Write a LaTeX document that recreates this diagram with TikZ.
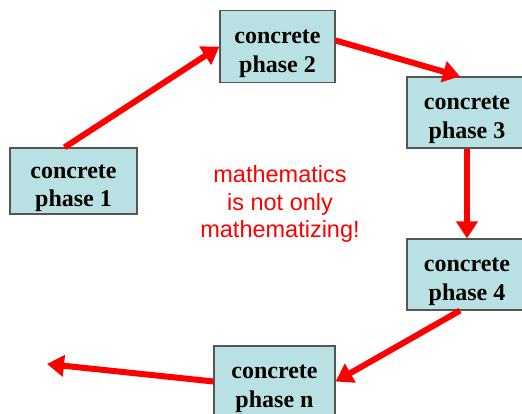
\documentclass[tikz,border=0pt]{standalone}
\usepackage{fontspec}
\setmainfont{Liberation Serif}
\newfontfamily\arialfont{Liberation Sans}
\usetikzlibrary{arrows.meta}
\definecolor{boxfill}{RGB}{185,224,227}
\definecolor{boxline}{RGB}{85,85,85}
\newcommand{\phtext}[2]{\raisebox{-6pt}[\height][\depth]{\begin{tabular}{@{}c@{}}#1\\#2\end{tabular}}}
\tikzset{
  phasebox/.style={draw=boxline, line width=1.2pt, fill=boxfill, inner sep=0pt,
    font=\fontsize{24}{28.5}\selectfont\bfseries},
  flow/.style={draw=red, line width=6pt, -{Triangle[length=17pt,width=21pt]}}
}
\begin{document}
\begin{tikzpicture}[x=1pt,y=-1pt]
\useasboundingbox (0,0) rectangle (522,414);
\clip (0,0) rectangle (522,414);
\fill[white] (0,0) rectangle (522,414);
\node[phasebox, minimum width=127pt, minimum height=66pt] (b1) at (73.5,181) {\phtext{concrete}{phase 1}};
\node[phasebox, minimum width=115pt, minimum height=72pt] (b2) at (277.5,46.5) {\phtext{concrete}{phase 2}};
\node[phasebox, minimum width=120pt, minimum height=71pt] (b3) at (467,112.5) {\phtext{concrete}{phase 3}};
\node[phasebox, minimum width=120pt, minimum height=71pt] (b4) at (467,274.5) {\phtext{concrete}{phase 4}};
\node[phasebox, minimum width=121pt, minimum height=71pt] (bn) at (274.5,381.5) {\phtext{concrete}{phase n}};
\coordinate (free) at (47,364);
\node[text=red, align=center, font=\arialfont\fontsize{23.5}{27.5}\selectfont] (txt) at (280,204) {mathematics\\is not only\\mathematizing!};
\draw[flow] ([xshift=-9pt]b1.north) -- (b2.west);
\draw[flow] ([yshift=6pt]b2.east) -- ([xshift=-7pt]b3.north);
\draw[flow] (b3.south) -- (b4.north);
\draw[flow] ([xshift=-7pt]b4.south) -- (bn.east);
\draw[flow] (bn.west) -- (free);
\end{tikzpicture}
\end{document}
